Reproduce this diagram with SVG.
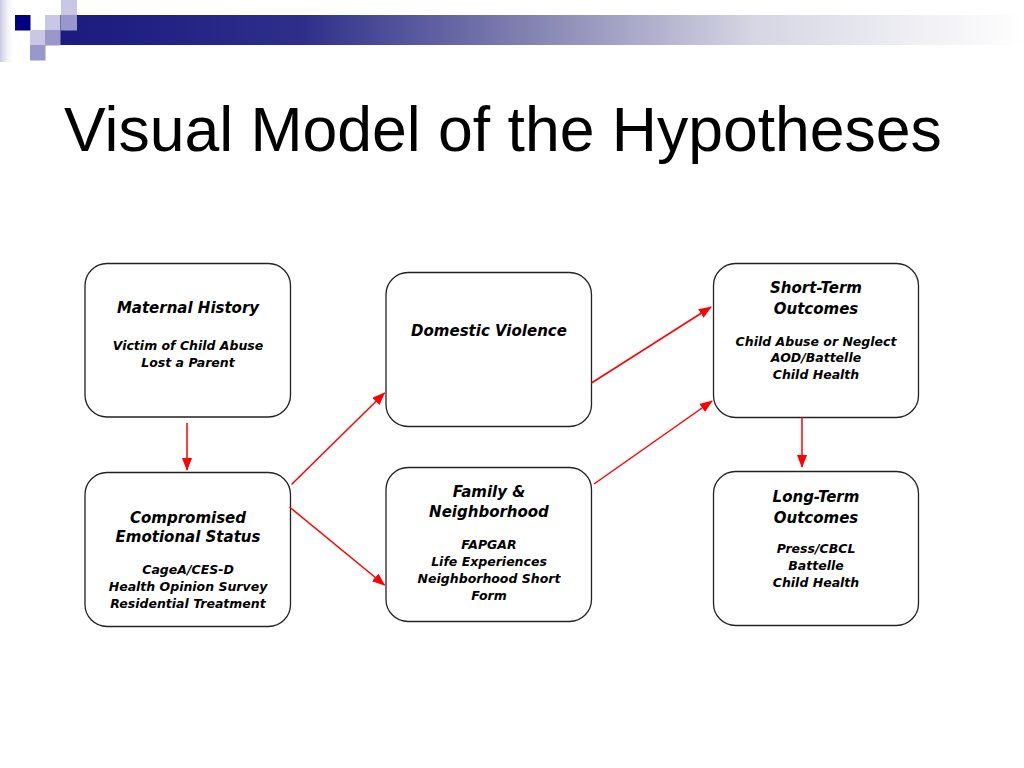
<svg xmlns="http://www.w3.org/2000/svg" width="1024" height="768" viewBox="0 0 1024 768">
  <defs>
    <linearGradient id="bar" x1="60" y1="0" x2="1024" y2="0" gradientUnits="userSpaceOnUse">
      <stop offset="0" stop-color="#1a1a80"/>
      <stop offset="0.25" stop-color="#2e2e8a"/>
      <stop offset="0.48" stop-color="#8080b0"/>
      <stop offset="0.72" stop-color="#d6d6e4"/>
      <stop offset="1" stop-color="#ffffff"/>
    </linearGradient>
    <linearGradient id="edge" x1="0" y1="0" x2="1" y2="0">
      <stop offset="0" stop-color="#c8c8e0"/>
      <stop offset="1" stop-color="#ffffff" stop-opacity="0"/>
    </linearGradient>
    <marker id="ah" markerUnits="userSpaceOnUse" markerWidth="13" markerHeight="10" refX="12" refY="5" orient="auto">
      <path d="M0,0 L13,5 L0,10 Z" fill="#ff0000"/>
    </marker>
    <style>
      .box { fill: #ffffff; stroke: #222222; stroke-width: 1.3; }
      .hd { font-family: "DejaVu Sans", Verdana, sans-serif; font-weight: bold; font-style: italic; font-size: 15px; fill: #000000; text-anchor: middle; }
      .dt { font-family: "DejaVu Sans", Verdana, sans-serif; font-weight: bold; font-style: italic; font-size: 12.5px; fill: #000000; text-anchor: middle; }
      .title { font-family: "Liberation Sans", Arial, sans-serif; font-size: 62.5px; fill: #000000; }
      .conn line { stroke: #ff0000; stroke-width: 1.5; marker-end: url(#ah); }
    </style>
  </defs>

  <rect width="1024" height="768" fill="#ffffff"/>

  <g id="decoration">
    <rect x="0" y="0" width="15" height="62" fill="url(#edge)"/>
    <rect x="60" y="15" width="964" height="30" fill="url(#bar)"/>
    <rect x="15" y="15" width="15.5" height="15.5" fill="#000080"/>
    <rect x="45" y="15" width="15.5" height="15.5" fill="#c8c8e2"/>
    <rect x="61" y="0" width="16" height="15" fill="#c8c8e2"/>
    <rect x="61" y="15" width="16" height="15.5" fill="#9898cc"/>
    <rect x="30" y="30" width="15.5" height="15.5" fill="#c8c8e2"/>
    <rect x="45" y="30" width="15.5" height="15.5" fill="#9898cc"/>
    <rect x="30" y="45" width="15.5" height="15.5" fill="#9898cc"/>
  </g>

  <text class="title" x="64" y="151">Visual Model of the Hypotheses</text>

  <g id="n-maternal">
    <rect class="box" x="85" y="263.5" width="205.5" height="153.5" rx="22"/>
    <text class="hd" x="188" y="313">Maternal History</text>
    <text class="dt" x="188" y="350">Victim of Child Abuse</text>
    <text class="dt" x="188" y="367">Lost a Parent</text>
  </g>

  <g id="n-compromised">
    <rect class="box" x="85" y="472.5" width="205.5" height="154" rx="22"/>
    <text class="hd" x="188" y="522.5">Compromised</text>
    <text class="hd" x="188" y="542">Emotional Status</text>
    <text class="dt" x="188" y="574">CageA/CES-D</text>
    <text class="dt" x="188" y="591">Health Opinion Survey</text>
    <text class="dt" x="188" y="607.5">Residential Treatment</text>
  </g>

  <g id="n-domestic">
    <rect class="box" x="386" y="272.5" width="205.5" height="154" rx="22"/>
    <text class="hd" x="489" y="336">Domestic Violence</text>
  </g>

  <g id="n-family">
    <rect class="box" x="386" y="467.5" width="205.5" height="154" rx="22"/>
    <text class="hd" x="489" y="497">Family &amp;</text>
    <text class="hd" x="489" y="517">Neighborhood</text>
    <text class="dt" x="489" y="549">FAPGAR</text>
    <text class="dt" x="489" y="566">Life Experiences</text>
    <text class="dt" x="489" y="583">Neighborhood Short</text>
    <text class="dt" x="489" y="600">Form</text>
  </g>

  <g id="n-short">
    <rect class="box" x="713.5" y="263.5" width="205" height="154" rx="22"/>
    <text class="hd" x="816" y="293">Short-Term</text>
    <text class="hd" x="816" y="314">Outcomes</text>
    <text class="dt" x="816" y="345.5">Child Abuse or Neglect</text>
    <text class="dt" x="816" y="362">AOD/Battelle</text>
    <text class="dt" x="816" y="379">Child Health</text>
  </g>

  <g id="n-long">
    <rect class="box" x="713.5" y="471.5" width="205" height="154" rx="22"/>
    <text class="hd" x="816" y="502">Long-Term</text>
    <text class="hd" x="816" y="522.5">Outcomes</text>
    <text class="dt" x="816" y="553">Press/CBCL</text>
    <text class="dt" x="816" y="570">Battelle</text>
    <text class="dt" x="816" y="587">Child Health</text>
  </g>

  <g id="connectors" class="conn">
    <line x1="187" y1="423" x2="187" y2="470"/>
    <line x1="291.5" y1="484.5" x2="384.5" y2="393"/>
    <line x1="289.5" y1="507" x2="384.5" y2="585"/>
    <line x1="591.5" y1="383" x2="711" y2="307"/>
    <line x1="594" y1="484" x2="712" y2="401"/>
    <line x1="802" y1="417" x2="802" y2="467"/>
  </g>
</svg>
